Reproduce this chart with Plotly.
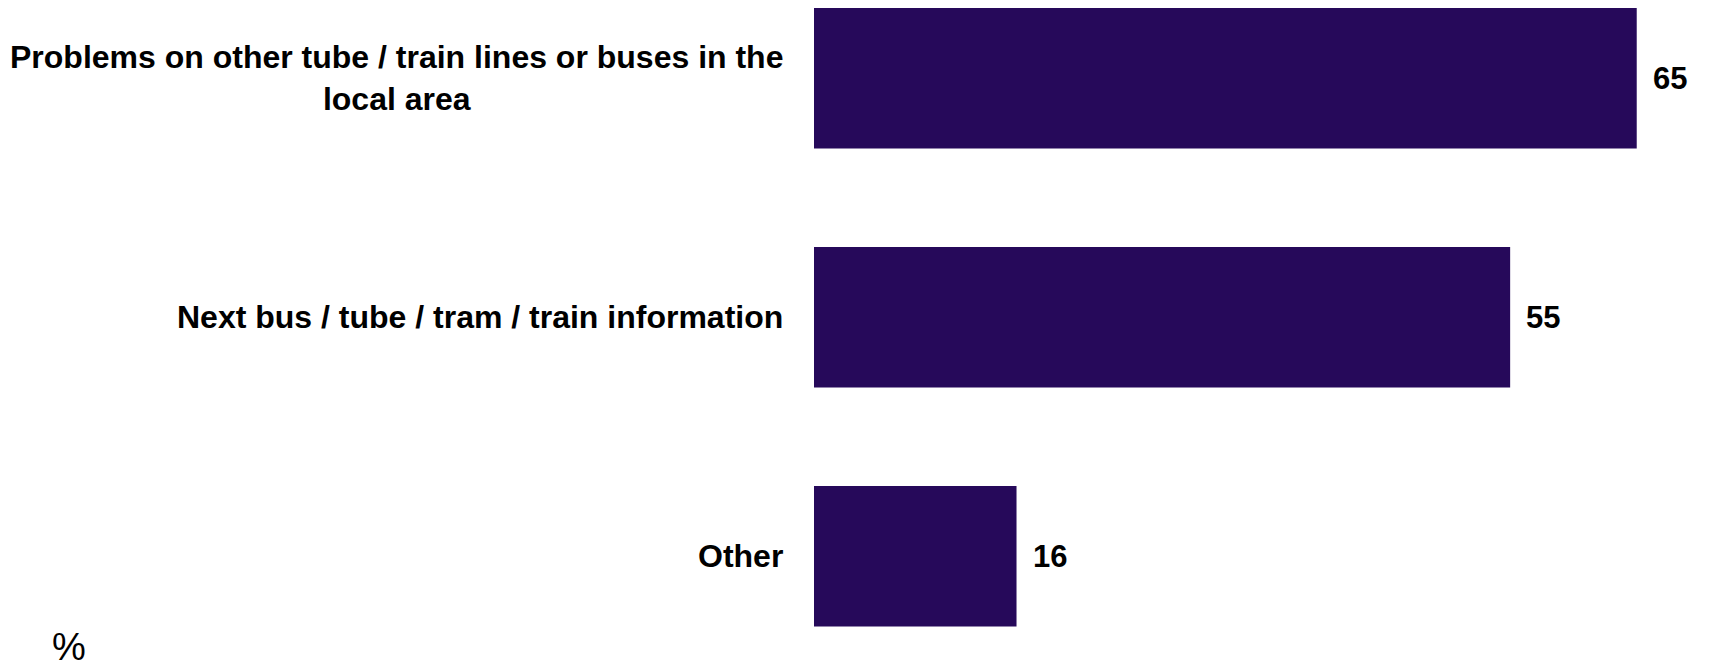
import plotly.graph_objects as go

# Survey responses (percent)
categories = [
    "Problems on other tube / train lines or buses in the<br>local area",
    "Next bus / tube / tram / train information",
    "Other",
]
values = [65, 55, 16]

BAR_COLOR = "#26095a"
FONT = "Liberation Sans, Arial, sans-serif"

fig = go.Figure(
    go.Bar(
        y=categories,
        x=values,
        orientation="h",
        marker=dict(color=BAR_COLOR, line=dict(width=0)),
        hoverinfo="skip",
    )
)

annotations = []
for cat, val in zip(categories, values):
    # category label to the left of the plot area
    annotations.append(dict(
        x=0, xref="paper", y=cat, yref="y",
        text=f"<b>{cat}</b>", showarrow=False,
        xanchor="right", yanchor="middle", align="center",
        xshift=-29,
        font=dict(family=FONT, size=32, color="#000000"),
    ))
    # value label just past the bar end
    annotations.append(dict(
        x=val, xref="x", y=cat, yref="y",
        text=f"<b>{val}</b>", showarrow=False,
        xanchor="left", yanchor="middle",
        xshift=14,
        font=dict(family=FONT, size=31, color="#000000"),
    ))

# unit marker, bottom left (paper coords relative to the plot area)
annotations.append(dict(
    x=(69 - 814) / (1709 - 814), xref="paper", y=0, yref="paper",
    text="%", showarrow=False, xanchor="center", yanchor="bottom",
    yshift=0,
    font=dict(family=FONT, size=38, color="#000000"),
))

fig.update_layout(
    width=1709,
    height=670,
    margin=dict(l=814, r=0, t=0, b=0),
    paper_bgcolor="white",
    plot_bgcolor="white",
    bargap=0.412,
    showlegend=False,
    xaxis=dict(range=[0, 70.71], visible=False, fixedrange=True),
    yaxis=dict(
        categoryorder="array", categoryarray=categories,
        range=[2.4757, -0.3276],
        showticklabels=False, showgrid=False, zeroline=False,
        showline=False, ticks="", fixedrange=True,
    ),
    annotations=annotations,
)

fig.write_html("out.html", config={"displayModeBar": False})
